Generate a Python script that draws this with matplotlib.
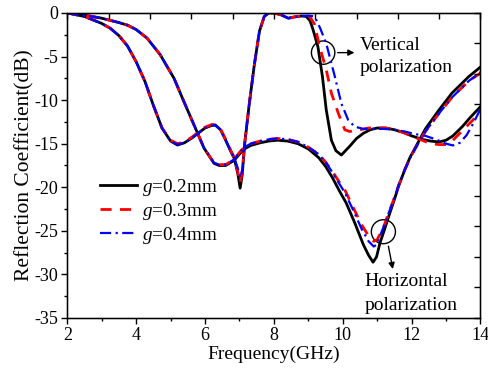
import matplotlib
matplotlib.use("Agg")
import matplotlib.pyplot as plt
from matplotlib.patches import Ellipse
import numpy as np

plt.rcParams['font.family'] = ['Liberation Serif', 'DejaVu Serif']
plt.rcParams['mathtext.fontset'] = 'custom'
plt.rcParams['mathtext.rm'] = 'Liberation Serif'
plt.rcParams['mathtext.it'] = 'Liberation Serif:italic'
plt.rcParams['axes.unicode_minus'] = False

# ---- g = 0.2 mm ----
f_v02 = [2.0, 2.5, 3.0, 3.25, 3.5, 3.75, 4.0, 4.25, 4.5, 4.75, 5.0, 5.2, 5.4, 5.6, 5.8,
         6.0, 6.2, 6.3, 6.45, 6.6, 6.75, 6.85, 6.95, 7.02, 7.08, 7.15, 7.28, 7.43, 7.58,
         7.72, 7.85, 8.0, 8.2, 8.42, 8.6, 8.8, 8.94, 9.05, 9.14, 9.28, 9.41, 9.52, 9.67,
         9.8, 9.96, 10.2, 10.4, 10.6, 10.8, 11.0, 11.25, 11.5, 11.75, 12.0, 12.3, 12.55,
         12.8, 13.0, 13.2, 13.47, 13.7, 14.0]
s_v02 = [0.0, -0.4, -1.2, -1.76, -2.6, -3.8, -5.6, -7.8, -10.6, -13.2, -14.7, -15.15,
         -14.9, -14.4, -13.8, -13.2, -12.9, -12.85, -13.4, -14.6, -15.9, -16.7, -18.4,
         -20.1, -18.6, -15.1, -10.6, -6.0, -2.1, -0.4, 0.0, 0.0, -0.2, -0.6, -0.45, -0.35,
         -0.4, -0.9, -1.95, -3.9, -7.3, -11.1, -14.6, -15.8, -16.3, -15.3, -14.4, -13.8,
         -13.4, -13.2, -13.2, -13.4, -13.7, -14.1, -14.5, -14.7, -14.8, -14.6, -14.1,
         -13.05, -12.0, -10.75]
f_h02 = [2.0, 2.5, 3.0, 3.5, 3.75, 4.0, 4.32, 4.7, 5.1, 5.39, 5.68, 5.97, 6.26, 6.41,
         6.6, 6.85, 7.0, 7.14, 7.33, 7.6, 7.85, 8.1, 8.4, 8.7, 9.0, 9.3, 9.5, 9.7, 9.9,
         10.1, 10.35, 10.6, 10.75, 10.88, 10.98, 11.08, 11.2, 11.33, 11.5, 11.62, 11.8,
         11.95, 12.1, 12.4, 12.8, 13.17, 13.66, 14.0]
s_h02 = [0.0, -0.25, -0.6, -1.1, -1.4, -1.9, -2.9, -4.8, -7.5, -10.2, -12.85, -15.5,
         -17.25, -17.5, -17.5, -16.9, -16.2, -15.6, -15.2, -14.9, -14.7, -14.6, -14.7,
         -15.0, -15.6, -16.6, -17.6, -18.9, -20.4, -21.8, -24.1, -26.6, -27.8, -28.6,
         -28.0, -26.4, -25.0, -23.4, -21.4, -19.9, -18.0, -16.6, -15.5, -13.3, -11.1,
         -9.2, -7.3, -6.2]

# ---- g = 0.3 mm ----
f_v03 = [2.0, 2.5, 3.0, 3.25, 3.5, 3.75, 4.0, 4.25, 4.5, 4.75, 5.0, 5.2, 5.4, 5.6, 5.8,
         6.0, 6.2, 6.3, 6.45, 6.6, 6.75, 6.85, 6.95, 7.02, 7.08, 7.15, 7.28, 7.43, 7.58,
         7.72, 7.85, 8.0, 8.2, 8.42, 8.6, 8.8, 9.04, 9.18, 9.33, 9.52, 9.67, 9.87, 10.06,
         10.2, 10.5, 10.75, 11.0, 11.25, 11.5, 11.75, 12.0, 12.3, 12.55, 12.8, 13.0, 13.2,
         13.4, 13.6, 13.8, 14.0]
s_v03 = [0.0, -0.4, -1.2, -1.76, -2.6, -3.8, -5.6, -7.8, -10.6, -13.2, -14.6, -15.0,
         -14.8, -14.3, -13.7, -13.1, -12.8, -12.8, -13.3, -14.5, -15.8, -16.6, -18.2,
         -19.5, -18.2, -15.0, -10.6, -6.0, -2.1, -0.4, 0.0, 0.0, -0.2, -0.6, -0.45, -0.35,
         -0.4, -1.3, -3.9, -6.5, -9.2, -11.5, -13.4, -13.6, -13.4, -13.2, -13.2, -13.2,
         -13.4, -13.7, -14.1, -14.6, -15.0, -15.1, -15.1, -14.6, -13.8, -13.0, -12.2, -11.3]
f_h03 = [2.0, 2.5, 3.0, 3.5, 3.75, 4.0, 4.32, 4.7, 5.1, 5.39, 5.68, 5.97, 6.26, 6.41,
         6.6, 6.85, 7.0, 7.14, 7.33, 7.6, 7.85, 8.1, 8.4, 8.7, 9.0, 9.3, 9.5, 9.7, 9.9,
         10.06, 10.3, 10.55, 10.75, 10.9, 11.0, 11.08, 11.2, 11.33, 11.5, 11.62, 11.8,
         11.95, 12.1, 12.4, 12.8, 13.17, 13.66, 14.0]
s_h03 = [0.0, -0.25, -0.6, -1.1, -1.4, -1.9, -2.9, -4.8, -7.5, -10.2, -12.85, -15.5,
         -17.2, -17.4, -17.4, -16.8, -16.0, -15.4, -15.0, -14.7, -14.5, -14.4, -14.5,
         -14.8, -15.4, -16.2, -17.1, -18.2, -19.4, -20.3, -22.3, -24.3, -25.6, -26.2,
         -26.0, -25.4, -24.4, -23.0, -21.2, -19.8, -18.0, -16.7, -15.6, -13.6, -11.5,
         -9.7, -7.8, -6.9]

# ---- g = 0.4 mm ----
f_v04 = [2.0, 2.5, 3.0, 3.25, 3.5, 3.75, 4.0, 4.25, 4.5, 4.75, 5.0, 5.2, 5.4, 5.6, 5.8,
         6.0, 6.2, 6.3, 6.45, 6.6, 6.75, 6.85, 6.95, 7.03, 7.09, 7.15, 7.28, 7.43, 7.58,
         7.72, 7.85, 8.0, 8.2, 8.42, 8.6, 8.8, 9.0, 9.18, 9.35, 9.52, 9.77, 9.96, 10.16,
         10.35, 10.6, 10.9, 11.2, 11.5, 11.8, 12.1, 12.4, 12.7, 13.0, 13.2, 13.4, 13.6,
         13.8, 14.0]
s_v04 = [0.0, -0.4, -1.2, -1.76, -2.6, -3.8, -5.6, -7.8, -10.6, -13.2, -14.7, -15.1,
         -14.9, -14.4, -13.8, -13.2, -12.9, -12.9, -13.4, -14.6, -15.9, -16.6, -17.8,
         -18.9, -17.8, -15.0, -10.6, -6.0, -2.1, -0.4, 0.0, 0.0, -0.2, -0.6, -0.45, -0.35,
         -0.3, -0.4, -1.8, -3.5, -7.3, -10.4, -12.3, -13.05, -13.3, -13.3, -13.3, -13.4,
         -13.6, -13.9, -14.1, -14.5, -15.0, -15.2, -14.9, -14.0, -12.6, -11.0]
f_h04 = [2.0, 2.5, 3.0, 3.5, 3.75, 4.0, 4.32, 4.7, 5.1, 5.39, 5.68, 5.97, 6.26, 6.41,
         6.6, 6.85, 7.0, 7.14, 7.33, 7.6, 7.85, 8.1, 8.4, 8.7, 9.0, 9.3, 9.5, 9.7, 9.9,
         10.06, 10.3, 10.55, 10.75, 10.9, 10.98, 11.08, 11.2, 11.33, 11.5, 11.62, 11.8,
         11.95, 12.1, 12.4, 12.8, 13.17, 13.66, 14.0]
s_h04 = [0.0, -0.25, -0.6, -1.1, -1.4, -1.9, -2.9, -4.8, -7.5, -10.2, -12.85, -15.5,
         -17.2, -17.4, -17.4, -16.8, -16.0, -15.4, -15.0, -14.7, -14.5, -14.4, -14.5,
         -14.8, -15.4, -16.2, -17.1, -18.3, -19.6, -20.6, -22.6, -24.8, -26.2, -26.8,
         -26.6, -25.6, -24.4, -23.0, -21.2, -19.8, -18.0, -16.7, -15.6, -13.6, -11.5,
         -9.7, -7.8, -6.8]

labels = [r'$g$=0.2mm', r'$g$=0.3mm', r'$g$=0.4mm']
colors = ['black', '#ff0000', '#0000ff']

fig = plt.figure(figsize=(4.89, 3.73), dpi=100)
ax = fig.add_axes([0.1376, 0.1475, 0.8450, 0.8177])

series = [(f_v02, s_v02, f_h02, s_h02), (f_v03, s_v03, f_h03, s_h03),
          (f_v04, s_v04, f_h04, s_h04)]
styles = [dict(ls='-', lw=2.0), dict(ls=(0, (4, 3)), lw=2.0),
          dict(ls=(0, (5, 2, 1, 2)), lw=1.6)]

handles = []
for (fv, sv, fh, sh), c, st, lab in zip(series, colors, styles, labels):
    h, = ax.plot(fv, sv, color=c, label=lab, **st)
    ax.plot(fh, sh, color=c, **st)
    handles.append(h)

ax.set_xlim(2, 14)
ax.set_ylim(-35, 0)
ax.set_xticks(np.arange(2, 15, 2))
ax.set_xticks(np.arange(3, 14, 2), minor=True)
ax.set_yticks(np.arange(-35, 1, 5))
ax.set_yticks(np.arange(-32.5, 0, 5), minor=True)
ax.tick_params(which='major', direction='out', length=4.5, width=1, labelsize=13, pad=2)
ax.tick_params(which='minor', direction='out', length=2.5, width=1)
for sp in ax.spines.values():
    sp.set_linewidth(1.0)

# Frame ticks along the top and right edges
axr = ax.twinx()
axr.set_ylim(-35, 0)
axr.set_yticks(np.linspace(-35, 0, 11))
axr.set_yticklabels([])
axr.tick_params(direction='in', length=4, width=1)
axt = ax.twiny()
axt.set_xlim(2, 14)
axt.set_xticks(np.linspace(2, 14, 11))
axt.set_xticklabels([])
axt.tick_params(direction='in', length=4, width=1)

ax.set_xlabel('Frequency(GHz)', fontsize=14, labelpad=1)
ax.set_ylabel('Reflection Coefficient(dB)', fontsize=15.5, labelpad=0)

ax.legend(handles=handles, loc='upper left', bbox_to_anchor=(0.06, 0.488),
          frameon=False, fontsize=13.8, handlelength=1.95, handletextpad=0.25,
          labelspacing=0.15, borderaxespad=0)

# Polarization annotations
ax.add_patch(Ellipse((9.43, -4.55), 0.68, 2.68, fill=False, color='black', lw=1.0))
ax.annotate('', xy=(10.42, -4.55), xytext=(9.77, -4.55),
            arrowprops=dict(arrowstyle='-|>', color='black', lw=1.0, mutation_scale=9))
ax.text(10.49, -4.25, 'Vertical', fontsize=14, ha='left', va='baseline')
ax.text(10.49, -6.8, 'polarization', fontsize=14, ha='left', va='baseline')

ax.add_patch(Ellipse((11.18, -25.1), 0.70, 2.75, fill=False, color='black', lw=1.0))
ax.annotate('', xy=(11.47, -29.7), xytext=(11.31, -26.45),
            arrowprops=dict(arrowstyle='-|>', color='black', lw=1.0, mutation_scale=9))
ax.text(10.63, -31.3, 'Horizontal', fontsize=14, ha='left', va='baseline')
ax.text(10.63, -34.05, 'polarization', fontsize=14, ha='left', va='baseline')

fig.savefig('out.png', dpi=100)
